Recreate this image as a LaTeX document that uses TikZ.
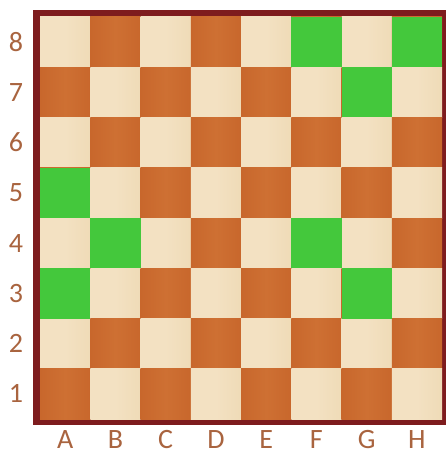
\documentclass[tikz,border=0pt]{standalone}
\usepackage{fontspec}
\setmainfont{Carlito}
\definecolor{lightsq}{HTML}{F3E1C2}
\definecolor{lightsqb}{HTML}{EFDBB7}
\definecolor{darksq}{HTML}{C8672C}
\definecolor{darksqb}{HTML}{CE7033}
\definecolor{greensq}{HTML}{44C83C}
\definecolor{frame}{HTML}{7E1C1E}
\definecolor{labelc}{HTML}{A9643F}
\tikzset{
  lbl/.style={text=labelc,font=\fontsize{28}{28}\selectfont,inner sep=0pt},
  lightbox/.style={left color=lightsq,right color=lightsqb,middle color=lightsq},
  darkbox/.style={left color=darksq,right color=darksq,middle color=darksqb}
}
\begin{document}
\begin{tikzpicture}[x=1pt,y=-1pt]
\useasboundingbox (0,0) rectangle (446,454);
\fill[white] (0,0) rectangle (446,454);
\fill[frame] (33,10) rectangle (446,425);
\def\sz{50.25}
\foreach \c in {0,...,7}{
  \foreach \r in {0,...,7}{
    \pgfmathtruncatemacro{\parity}{mod(\c+\r,2)}
    \ifnum\parity=0
      \shade[lightbox] ({40+\c*\sz},{17+\r*\sz}) rectangle ++(\sz,\sz);
    \else
      \shade[darkbox] ({40+\c*\sz},{17+\r*\sz}) rectangle ++(\sz,\sz);
    \fi
  }
}
% green squares: (col,row from top)
\foreach \c/\r in {5/0,7/0,6/1,0/3,1/4,5/4,0/5,6/5}{
  \fill[greensq] ({40+\c*\sz},{17+\r*\sz}) rectangle ++(\sz,\sz);
}
\foreach \n [count=\i from 0] in {8,7,6,5,4,3,2,1}{
  \node[lbl] (rank\n) at (16,{17+\sz/2+\i*\sz}) {\n};
}
\foreach \f [count=\i from 0] in {A,B,C,D,E,F,G,H}{
  \node[lbl,anchor=base] (file\f) at ({40+\sz/2+\i*\sz},448) {\f};
}
\end{tikzpicture}
\end{document}
